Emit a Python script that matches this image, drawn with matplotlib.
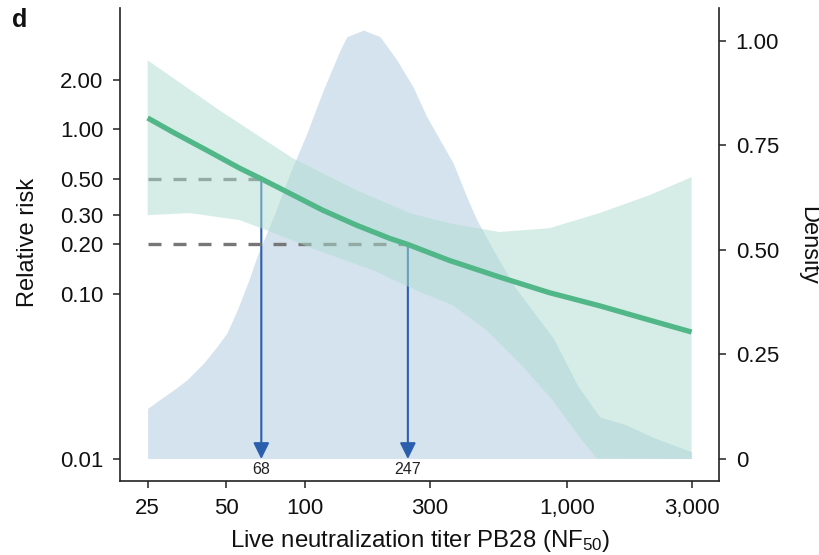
import matplotlib
matplotlib.use("Agg")
import matplotlib.pyplot as plt
import numpy as np

plt.rcParams['font.family'] = ['Liberation Sans', 'DejaVu Sans']
plt.rcParams['mathtext.default'] = 'regular'

# Fitted relative risk versus live neutralization titer
titer_fit = [25, 31.2, 42, 56.2, 68, 87.2, 116.6, 157, 210, 247, 356, 553, 859, 1334, 2070, 3000]
rr_fit = [1.17, 0.96, 0.746, 0.58, 0.5, 0.409, 0.323, 0.262, 0.218, 0.2, 0.160, 0.127,
          0.102, 0.085, 0.0696, 0.0589]

# Confidence band, upper and lower bounds (lower clipped at 0.01)
titer_ci_upper = [25, 47.1, 89.6, 157, 251, 356, 553, 859, 1334, 2070, 3000]
rr_ci_upper = [2.62, 1.30, 0.667, 0.427, 0.31, 0.269, 0.238, 0.251, 0.31, 0.398, 0.512]
titer_ci_lower = [25, 36.2, 56.2, 71.2, 110.7, 181, 274, 366, 494, 660, 882, 1119, 1299, 3000]
rr_ci_lower = [0.301, 0.31, 0.281, 0.244, 0.185, 0.14, 0.103, 0.0858, 0.0605, 0.0382,
               0.0228, 0.0136, 0.0101, 0.01]

# Titer distribution (density, right axis)
titer_density = [25, 27.1, 31.4, 35.3, 40.9, 45.9, 50.2, 55.4, 61.6, 65.4, 75.6, 87.6,
                 101.5, 117.4, 136, 144.3, 167, 193.4, 224, 258.5, 291.6, 368.6, 414.7,
                 452.9, 524, 634, 888.5, 1104, 1340, 1656, 2136, 3000]
density = [0.120, 0.136, 0.164, 0.188, 0.228, 0.267, 0.300, 0.360, 0.435, 0.483, 0.578,
           0.683, 0.778, 0.882, 0.977, 1.009, 1.025, 1.009, 0.954, 0.889, 0.818, 0.706,
           0.626, 0.571, 0.499, 0.410, 0.288, 0.173, 0.099, 0.0825, 0.051, 0.016]

# Titers reaching a given relative risk
threshold_rr = [0.5, 0.2]
threshold_titer = [68, 247]

x_ticks = [25, 50, 100, 300, 1000, 3000]
x_ticklabels = ['25', '50', '100', '300', '1,000', '3,000']
rr_ticks = [0.01, 0.1, 0.2, 0.3, 0.5, 1.0, 2.0]
rr_ticklabels = ['0.01', '0.10', '0.20', '0.30', '0.50', '1.00', '2.00']
dens_ticks = [0, 0.25, 0.5, 0.75, 1.0]
dens_ticklabels = ['0', '0.25', '0.50', '0.75', '1.00']

GREEN = '#52b788'
BAND = (173 / 255, 221 / 255, 207 / 255)
DENS = '#8db5d5'
BLUE = '#2b5fae'
SPINE = '#222222'

fig = plt.figure(figsize=(8.2, 5.55), dpi=100)
ax2 = fig.add_axes([0.1463, 0.1333, 0.7305, 0.8523])
ax = fig.add_axes([0.1463, 0.1333, 0.7305, 0.8523], sharex=ax2)
ax.set_zorder(ax2.get_zorder() + 1)
ax.patch.set_visible(False)

# density on the right axis (drawn underneath)
ax2.fill_between(titer_density, 0, density, color=DENS, alpha=0.37, lw=0)
ax2.set_ylim(-0.0538, 1.0778)
ax2.yaxis.tick_right()
ax2.set_yticks(dens_ticks)
ax2.set_yticklabels(dens_ticklabels)

ax.set_xscale('log')
ax.set_yscale('log')
ax.set_xlim(19.6, 3818)
ax.set_ylim(0.00736, 5.43)

# reference lines and arrows
for rr, t in zip(threshold_rr, threshold_titer):
    ax.plot([25, t], [rr, rr], color='#777777', lw=2.4, ls=(0, (3.9, 3.6)),
            solid_capstyle='butt', zorder=2)
    ax.annotate('', xy=(t, 0.01), xytext=(t, rr),
                arrowprops=dict(arrowstyle='-|>,head_length=0.65,head_width=0.32',
                                color=BLUE, lw=1.5, mutation_scale=15,
                                shrinkA=0, shrinkB=0), zorder=2)
    ax.annotate(str(t), xy=(t, 0.01), xytext=(0, -2), textcoords='offset points',
                ha='center', va='top', fontsize=11.5, color='#222222')

# confidence band and fitted curve
band_x = np.r_[titer_ci_upper, titer_ci_lower[::-1]]
band_y = np.r_[rr_ci_upper, rr_ci_lower[::-1]]
ax.fill(band_x, band_y, color=BAND, alpha=0.5, lw=0, zorder=3)
ax.plot(titer_fit, rr_fit, color=GREEN, lw=3.8, solid_capstyle='butt', zorder=4)

ax.set_xticks(x_ticks)
ax.set_xticklabels(x_ticklabels)
ax.set_yticks(rr_ticks)
ax.set_yticklabels(rr_ticklabels)
ax.minorticks_off()
ax2.minorticks_off()

for a in (ax, ax2):
    a.tick_params(length=5, width=1.1, color=SPINE, labelsize=16, labelcolor='#111111', pad=7)
    for s in a.spines.values():
        s.set_color(SPINE)
        s.set_linewidth(1.2)

ax.spines['top'].set_visible(False)
ax.spines['right'].set_visible(False)
ax2.spines['top'].set_visible(False)
ax2.spines['left'].set_visible(False)
ax2.spines['bottom'].set_visible(False)
ax2.tick_params(axis='x', which='both', bottom=False, labelbottom=False)

fig.text(28 / 820, 1 - 242 / 555, 'Relative risk', rotation=90, ha='center', va='center',
         fontsize=17, color='#111111')
fig.text(808 / 820, 1 - 245 / 555, 'Density', rotation=270, ha='center', va='center',
         fontsize=17, color='#111111')
fig.text(420 / 820, 1 - 541 / 555, 'Live neutralization titer PB28 (NF$_{50}$)',
         ha='center', va='center', fontsize=17.3, color='#111111')
fig.text(20 / 820, 1 - 20 / 555, 'd', ha='center', va='center', fontsize=18,
         fontweight='bold', color='#111111')

fig.savefig('out.png', dpi=100)
